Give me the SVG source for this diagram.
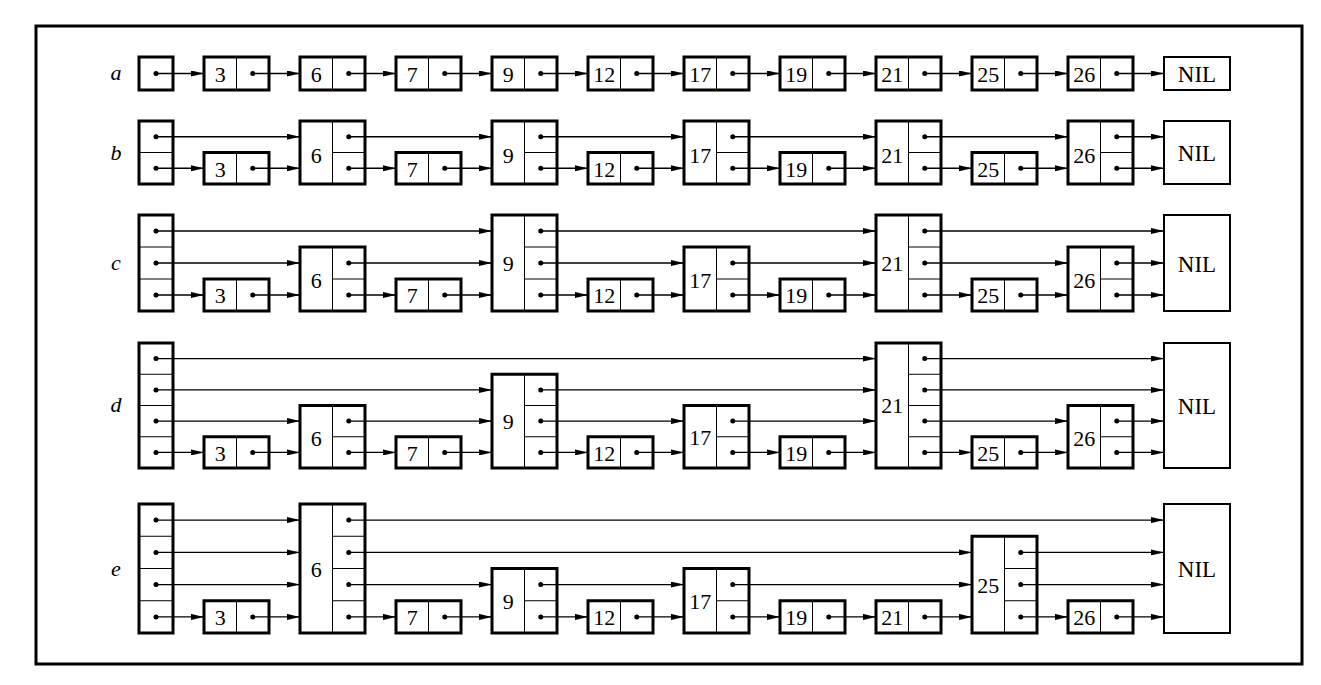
<svg xmlns="http://www.w3.org/2000/svg" width="1321" height="685" viewBox="0 0 1321 685">
<style>
.box{fill:#fff;stroke:#000;stroke-width:3}
.nil{fill:#fff;stroke:#000;stroke-width:2}
.d{stroke:#000;stroke-width:1;fill:none}
.dot{fill:#000}
.k{font-family:"Liberation Serif","Times New Roman",serif;font-size:22px;text-anchor:middle;fill:#000}
.n{font-family:"Liberation Serif","Times New Roman",serif;font-size:23px;text-anchor:middle;fill:#000}
.lb{font-family:"Liberation Serif","Times New Roman",serif;font-size:22px;font-style:italic;text-anchor:middle;fill:#000}
.e{stroke:#000;stroke-width:1.3;fill:none;marker-end:url(#ah)}
</style>
<defs>
<marker id="ah" markerUnits="userSpaceOnUse" markerWidth="13" markerHeight="6" refX="13" refY="3" orient="auto"><path d="M0,0 L13,3 L0,6 z" fill="#000"/></marker>
</defs>
<rect x="0" y="0" width="1321" height="685" fill="#fff"/>
<rect x="36" y="26" width="1266" height="638" fill="none" stroke="#000" stroke-width="3"/>
<g id="labels">
<text class="lb" x="116" y="80">a</text>
<text class="lb" x="116" y="160">b</text>
<text class="lb" x="116" y="270">c</text>
<text class="lb" x="116" y="412">d</text>
<text class="lb" x="116" y="576">e</text>
</g>
<!-- Row a -->
<g id="a-h"><rect class="box" x="139" y="57" width="34" height="33"/><circle class="dot" cx="156" cy="73.5" r="2.5"/></g>
<g id="a-3"><rect class="box" x="204" y="57" width="65" height="33"/><line class="d" x1="236.5" y1="57" x2="236.5" y2="90"/><circle class="dot" cx="252.75" cy="73.5" r="2.5"/><text class="k" x="220.25" y="81.5">3</text></g>
<g id="a-6"><rect class="box" x="300" y="57" width="65" height="33"/><line class="d" x1="332.5" y1="57" x2="332.5" y2="90"/><circle class="dot" cx="348.75" cy="73.5" r="2.5"/><text class="k" x="316.25" y="81.5">6</text></g>
<g id="a-7"><rect class="box" x="396" y="57" width="65" height="33"/><line class="d" x1="428.5" y1="57" x2="428.5" y2="90"/><circle class="dot" cx="444.75" cy="73.5" r="2.5"/><text class="k" x="412.25" y="81.5">7</text></g>
<g id="a-9"><rect class="box" x="492" y="57" width="65" height="33"/><line class="d" x1="524.5" y1="57" x2="524.5" y2="90"/><circle class="dot" cx="540.75" cy="73.5" r="2.5"/><text class="k" x="508.25" y="81.5">9</text></g>
<g id="a-12"><rect class="box" x="588" y="57" width="65" height="33"/><line class="d" x1="620.5" y1="57" x2="620.5" y2="90"/><circle class="dot" cx="636.75" cy="73.5" r="2.5"/><text class="k" x="604.25" y="81.5">12</text></g>
<g id="a-17"><rect class="box" x="684" y="57" width="65" height="33"/><line class="d" x1="716.5" y1="57" x2="716.5" y2="90"/><circle class="dot" cx="732.75" cy="73.5" r="2.5"/><text class="k" x="700.25" y="81.5">17</text></g>
<g id="a-19"><rect class="box" x="780" y="57" width="65" height="33"/><line class="d" x1="812.5" y1="57" x2="812.5" y2="90"/><circle class="dot" cx="828.75" cy="73.5" r="2.5"/><text class="k" x="796.25" y="81.5">19</text></g>
<g id="a-21"><rect class="box" x="876" y="57" width="65" height="33"/><line class="d" x1="908.5" y1="57" x2="908.5" y2="90"/><circle class="dot" cx="924.75" cy="73.5" r="2.5"/><text class="k" x="892.25" y="81.5">21</text></g>
<g id="a-25"><rect class="box" x="972" y="57" width="65" height="33"/><line class="d" x1="1004.5" y1="57" x2="1004.5" y2="90"/><circle class="dot" cx="1020.75" cy="73.5" r="2.5"/><text class="k" x="988.25" y="81.5">25</text></g>
<g id="a-26"><rect class="box" x="1068" y="57" width="65" height="33"/><line class="d" x1="1100.5" y1="57" x2="1100.5" y2="90"/><circle class="dot" cx="1116.75" cy="73.5" r="2.5"/><text class="k" x="1084.25" y="81.5">26</text></g>
<g id="a-nil"><rect class="nil" x="1164" y="57" width="66" height="33"/><text class="n" x="1197" y="82">NIL</text></g>
<!-- Row b -->
<g id="b-h"><rect class="box" x="139" y="121" width="34" height="63"/><line class="d" x1="139" y1="152.5" x2="173" y2="152.5"/><circle class="dot" cx="156" cy="136.75" r="2.5"/><circle class="dot" cx="156" cy="168.25" r="2.5"/></g>
<g id="b-3"><rect class="box" x="204" y="152.5" width="65" height="31.5"/><line class="d" x1="236.5" y1="152.5" x2="236.5" y2="184"/><circle class="dot" cx="252.75" cy="168.25" r="2.5"/><text class="k" x="220.25" y="176.5">3</text></g>
<g id="b-6"><rect class="box" x="300" y="121" width="65" height="63"/><line class="d" x1="332.5" y1="121" x2="332.5" y2="184"/><line class="d" x1="332.5" y1="152.5" x2="365" y2="152.5"/><circle class="dot" cx="348.75" cy="136.75" r="2.5"/><circle class="dot" cx="348.75" cy="168.25" r="2.5"/><text class="k" x="316.25" y="162.5">6</text></g>
<g id="b-7"><rect class="box" x="396" y="152.5" width="65" height="31.5"/><line class="d" x1="428.5" y1="152.5" x2="428.5" y2="184"/><circle class="dot" cx="444.75" cy="168.25" r="2.5"/><text class="k" x="412.25" y="176.5">7</text></g>
<g id="b-9"><rect class="box" x="492" y="121" width="65" height="63"/><line class="d" x1="524.5" y1="121" x2="524.5" y2="184"/><line class="d" x1="524.5" y1="152.5" x2="557" y2="152.5"/><circle class="dot" cx="540.75" cy="136.75" r="2.5"/><circle class="dot" cx="540.75" cy="168.25" r="2.5"/><text class="k" x="508.25" y="162.5">9</text></g>
<g id="b-12"><rect class="box" x="588" y="152.5" width="65" height="31.5"/><line class="d" x1="620.5" y1="152.5" x2="620.5" y2="184"/><circle class="dot" cx="636.75" cy="168.25" r="2.5"/><text class="k" x="604.25" y="176.5">12</text></g>
<g id="b-17"><rect class="box" x="684" y="121" width="65" height="63"/><line class="d" x1="716.5" y1="121" x2="716.5" y2="184"/><line class="d" x1="716.5" y1="152.5" x2="749" y2="152.5"/><circle class="dot" cx="732.75" cy="136.75" r="2.5"/><circle class="dot" cx="732.75" cy="168.25" r="2.5"/><text class="k" x="700.25" y="162.5">17</text></g>
<g id="b-19"><rect class="box" x="780" y="152.5" width="65" height="31.5"/><line class="d" x1="812.5" y1="152.5" x2="812.5" y2="184"/><circle class="dot" cx="828.75" cy="168.25" r="2.5"/><text class="k" x="796.25" y="176.5">19</text></g>
<g id="b-21"><rect class="box" x="876" y="121" width="65" height="63"/><line class="d" x1="908.5" y1="121" x2="908.5" y2="184"/><line class="d" x1="908.5" y1="152.5" x2="941" y2="152.5"/><circle class="dot" cx="924.75" cy="136.75" r="2.5"/><circle class="dot" cx="924.75" cy="168.25" r="2.5"/><text class="k" x="892.25" y="162.5">21</text></g>
<g id="b-25"><rect class="box" x="972" y="152.5" width="65" height="31.5"/><line class="d" x1="1004.5" y1="152.5" x2="1004.5" y2="184"/><circle class="dot" cx="1020.75" cy="168.25" r="2.5"/><text class="k" x="988.25" y="176.5">25</text></g>
<g id="b-26"><rect class="box" x="1068" y="121" width="65" height="63"/><line class="d" x1="1100.5" y1="121" x2="1100.5" y2="184"/><line class="d" x1="1100.5" y1="152.5" x2="1133" y2="152.5"/><circle class="dot" cx="1116.75" cy="136.75" r="2.5"/><circle class="dot" cx="1116.75" cy="168.25" r="2.5"/><text class="k" x="1084.25" y="162.5">26</text></g>
<g id="b-nil"><rect class="nil" x="1164" y="121" width="66" height="63"/><text class="n" x="1197" y="160.5">NIL</text></g>
<!-- Row c -->
<g id="c-h"><rect class="box" x="139" y="215" width="34" height="96"/><line class="d" x1="139" y1="247" x2="173" y2="247"/><line class="d" x1="139" y1="279" x2="173" y2="279"/><circle class="dot" cx="156" cy="231" r="2.5"/><circle class="dot" cx="156" cy="263" r="2.5"/><circle class="dot" cx="156" cy="295" r="2.5"/></g>
<g id="c-3"><rect class="box" x="204" y="279" width="65" height="32"/><line class="d" x1="236.5" y1="279" x2="236.5" y2="311"/><circle class="dot" cx="252.75" cy="295" r="2.5"/><text class="k" x="220.25" y="303">3</text></g>
<g id="c-6"><rect class="box" x="300" y="247" width="65" height="64"/><line class="d" x1="332.5" y1="247" x2="332.5" y2="311"/><line class="d" x1="332.5" y1="279" x2="365" y2="279"/><circle class="dot" cx="348.75" cy="263" r="2.5"/><circle class="dot" cx="348.75" cy="295" r="2.5"/><text class="k" x="316.25" y="288">6</text></g>
<g id="c-7"><rect class="box" x="396" y="279" width="65" height="32"/><line class="d" x1="428.5" y1="279" x2="428.5" y2="311"/><circle class="dot" cx="444.75" cy="295" r="2.5"/><text class="k" x="412.25" y="303">7</text></g>
<g id="c-9"><rect class="box" x="492" y="215" width="65" height="96"/><line class="d" x1="524.5" y1="215" x2="524.5" y2="311"/><line class="d" x1="524.5" y1="247" x2="557" y2="247"/><line class="d" x1="524.5" y1="279" x2="557" y2="279"/><circle class="dot" cx="540.75" cy="231" r="2.5"/><circle class="dot" cx="540.75" cy="263" r="2.5"/><circle class="dot" cx="540.75" cy="295" r="2.5"/><text class="k" x="508.25" y="271">9</text></g>
<g id="c-12"><rect class="box" x="588" y="279" width="65" height="32"/><line class="d" x1="620.5" y1="279" x2="620.5" y2="311"/><circle class="dot" cx="636.75" cy="295" r="2.5"/><text class="k" x="604.25" y="303">12</text></g>
<g id="c-17"><rect class="box" x="684" y="247" width="65" height="64"/><line class="d" x1="716.5" y1="247" x2="716.5" y2="311"/><line class="d" x1="716.5" y1="279" x2="749" y2="279"/><circle class="dot" cx="732.75" cy="263" r="2.5"/><circle class="dot" cx="732.75" cy="295" r="2.5"/><text class="k" x="700.25" y="288">17</text></g>
<g id="c-19"><rect class="box" x="780" y="279" width="65" height="32"/><line class="d" x1="812.5" y1="279" x2="812.5" y2="311"/><circle class="dot" cx="828.75" cy="295" r="2.5"/><text class="k" x="796.25" y="303">19</text></g>
<g id="c-21"><rect class="box" x="876" y="215" width="65" height="96"/><line class="d" x1="908.5" y1="215" x2="908.5" y2="311"/><line class="d" x1="908.5" y1="247" x2="941" y2="247"/><line class="d" x1="908.5" y1="279" x2="941" y2="279"/><circle class="dot" cx="924.75" cy="231" r="2.5"/><circle class="dot" cx="924.75" cy="263" r="2.5"/><circle class="dot" cx="924.75" cy="295" r="2.5"/><text class="k" x="892.25" y="271">21</text></g>
<g id="c-25"><rect class="box" x="972" y="279" width="65" height="32"/><line class="d" x1="1004.5" y1="279" x2="1004.5" y2="311"/><circle class="dot" cx="1020.75" cy="295" r="2.5"/><text class="k" x="988.25" y="303">25</text></g>
<g id="c-26"><rect class="box" x="1068" y="247" width="65" height="64"/><line class="d" x1="1100.5" y1="247" x2="1100.5" y2="311"/><line class="d" x1="1100.5" y1="279" x2="1133" y2="279"/><circle class="dot" cx="1116.75" cy="263" r="2.5"/><circle class="dot" cx="1116.75" cy="295" r="2.5"/><text class="k" x="1084.25" y="288">26</text></g>
<g id="c-nil"><rect class="nil" x="1164" y="215" width="66" height="96"/><text class="n" x="1197" y="271.5">NIL</text></g>
<!-- Row d -->
<g id="d-h"><rect class="box" x="139" y="343" width="34" height="125"/><line class="d" x1="139" y1="374.25" x2="173" y2="374.25"/><line class="d" x1="139" y1="405.5" x2="173" y2="405.5"/><line class="d" x1="139" y1="436.75" x2="173" y2="436.75"/><circle class="dot" cx="156" cy="358.6" r="2.5"/><circle class="dot" cx="156" cy="389.9" r="2.5"/><circle class="dot" cx="156" cy="421.1" r="2.5"/><circle class="dot" cx="156" cy="452.4" r="2.5"/></g>
<g id="d-3"><rect class="box" x="204" y="436.75" width="65" height="31.25"/><line class="d" x1="236.5" y1="436.75" x2="236.5" y2="468"/><circle class="dot" cx="252.75" cy="452.4" r="2.5"/><text class="k" x="220.25" y="460.5">3</text></g>
<g id="d-6"><rect class="box" x="300" y="405.5" width="65" height="62.5"/><line class="d" x1="332.5" y1="405.5" x2="332.5" y2="468"/><line class="d" x1="332.5" y1="436.75" x2="365" y2="436.75"/><circle class="dot" cx="348.75" cy="421.1" r="2.5"/><circle class="dot" cx="348.75" cy="452.4" r="2.5"/><text class="k" x="316.25" y="445.5">6</text></g>
<g id="d-7"><rect class="box" x="396" y="436.75" width="65" height="31.25"/><line class="d" x1="428.5" y1="436.75" x2="428.5" y2="468"/><circle class="dot" cx="444.75" cy="452.4" r="2.5"/><text class="k" x="412.25" y="460.5">7</text></g>
<g id="d-9"><rect class="box" x="492" y="374.25" width="65" height="93.75"/><line class="d" x1="524.5" y1="374.25" x2="524.5" y2="468"/><line class="d" x1="524.5" y1="405.5" x2="557" y2="405.5"/><line class="d" x1="524.5" y1="436.75" x2="557" y2="436.75"/><circle class="dot" cx="540.75" cy="389.9" r="2.5"/><circle class="dot" cx="540.75" cy="421.1" r="2.5"/><circle class="dot" cx="540.75" cy="452.4" r="2.5"/><text class="k" x="508.25" y="429">9</text></g>
<g id="d-12"><rect class="box" x="588" y="436.75" width="65" height="31.25"/><line class="d" x1="620.5" y1="436.75" x2="620.5" y2="468"/><circle class="dot" cx="636.75" cy="452.4" r="2.5"/><text class="k" x="604.25" y="460.5">12</text></g>
<g id="d-17"><rect class="box" x="684" y="405.5" width="65" height="62.5"/><line class="d" x1="716.5" y1="405.5" x2="716.5" y2="468"/><line class="d" x1="716.5" y1="436.75" x2="749" y2="436.75"/><circle class="dot" cx="732.75" cy="421.1" r="2.5"/><circle class="dot" cx="732.75" cy="452.4" r="2.5"/><text class="k" x="700.25" y="445">17</text></g>
<g id="d-19"><rect class="box" x="780" y="436.75" width="65" height="31.25"/><line class="d" x1="812.5" y1="436.75" x2="812.5" y2="468"/><circle class="dot" cx="828.75" cy="452.4" r="2.5"/><text class="k" x="796.25" y="460.5">19</text></g>
<g id="d-21"><rect class="box" x="876" y="343" width="65" height="125"/><line class="d" x1="908.5" y1="343" x2="908.5" y2="468"/><line class="d" x1="908.5" y1="374.25" x2="941" y2="374.25"/><line class="d" x1="908.5" y1="405.5" x2="941" y2="405.5"/><line class="d" x1="908.5" y1="436.75" x2="941" y2="436.75"/><circle class="dot" cx="924.75" cy="358.6" r="2.5"/><circle class="dot" cx="924.75" cy="389.9" r="2.5"/><circle class="dot" cx="924.75" cy="421.1" r="2.5"/><circle class="dot" cx="924.75" cy="452.4" r="2.5"/><text class="k" x="892.25" y="413">21</text></g>
<g id="d-25"><rect class="box" x="972" y="436.75" width="65" height="31.25"/><line class="d" x1="1004.5" y1="436.75" x2="1004.5" y2="468"/><circle class="dot" cx="1020.75" cy="452.4" r="2.5"/><text class="k" x="988.25" y="460.5">25</text></g>
<g id="d-26"><rect class="box" x="1068" y="405.5" width="65" height="62.5"/><line class="d" x1="1100.5" y1="405.5" x2="1100.5" y2="468"/><line class="d" x1="1100.5" y1="436.75" x2="1133" y2="436.75"/><circle class="dot" cx="1116.75" cy="421.1" r="2.5"/><circle class="dot" cx="1116.75" cy="452.4" r="2.5"/><text class="k" x="1084.25" y="446">26</text></g>
<g id="d-nil"><rect class="nil" x="1164" y="343" width="66" height="125"/><text class="n" x="1197" y="413.5">NIL</text></g>
<!-- Row e -->
<g id="e-h"><rect class="box" x="139" y="504" width="34" height="129"/><line class="d" x1="139" y1="536.25" x2="173" y2="536.25"/><line class="d" x1="139" y1="568.5" x2="173" y2="568.5"/><line class="d" x1="139" y1="600.75" x2="173" y2="600.75"/><circle class="dot" cx="156" cy="520.1" r="2.5"/><circle class="dot" cx="156" cy="552.4" r="2.5"/><circle class="dot" cx="156" cy="584.6" r="2.5"/><circle class="dot" cx="156" cy="616.9" r="2.5"/></g>
<g id="e-3"><rect class="box" x="204" y="600.75" width="65" height="32.25"/><line class="d" x1="236.5" y1="600.75" x2="236.5" y2="633"/><circle class="dot" cx="252.75" cy="616.9" r="2.5"/><text class="k" x="220.25" y="625">3</text></g>
<g id="e-6"><rect class="box" x="300" y="504" width="65" height="129"/><line class="d" x1="332.5" y1="504" x2="332.5" y2="633"/><line class="d" x1="332.5" y1="536.25" x2="365" y2="536.25"/><line class="d" x1="332.5" y1="568.5" x2="365" y2="568.5"/><line class="d" x1="332.5" y1="600.75" x2="365" y2="600.75"/><circle class="dot" cx="348.75" cy="520.1" r="2.5"/><circle class="dot" cx="348.75" cy="552.4" r="2.5"/><circle class="dot" cx="348.75" cy="584.6" r="2.5"/><circle class="dot" cx="348.75" cy="616.9" r="2.5"/><text class="k" x="316.25" y="576.5">6</text></g>
<g id="e-7"><rect class="box" x="396" y="600.75" width="65" height="32.25"/><line class="d" x1="428.5" y1="600.75" x2="428.5" y2="633"/><circle class="dot" cx="444.75" cy="616.9" r="2.5"/><text class="k" x="412.25" y="625">7</text></g>
<g id="e-9"><rect class="box" x="492" y="568.5" width="65" height="64.5"/><line class="d" x1="524.5" y1="568.5" x2="524.5" y2="633"/><line class="d" x1="524.5" y1="600.75" x2="557" y2="600.75"/><circle class="dot" cx="540.75" cy="584.6" r="2.5"/><circle class="dot" cx="540.75" cy="616.9" r="2.5"/><text class="k" x="508.25" y="608.5">9</text></g>
<g id="e-12"><rect class="box" x="588" y="600.75" width="65" height="32.25"/><line class="d" x1="620.5" y1="600.75" x2="620.5" y2="633"/><circle class="dot" cx="636.75" cy="616.9" r="2.5"/><text class="k" x="604.25" y="625">12</text></g>
<g id="e-17"><rect class="box" x="684" y="568.5" width="65" height="64.5"/><line class="d" x1="716.5" y1="568.5" x2="716.5" y2="633"/><line class="d" x1="716.5" y1="600.75" x2="749" y2="600.75"/><circle class="dot" cx="732.75" cy="584.6" r="2.5"/><circle class="dot" cx="732.75" cy="616.9" r="2.5"/><text class="k" x="700.25" y="608.5">17</text></g>
<g id="e-19"><rect class="box" x="780" y="600.75" width="65" height="32.25"/><line class="d" x1="812.5" y1="600.75" x2="812.5" y2="633"/><circle class="dot" cx="828.75" cy="616.9" r="2.5"/><text class="k" x="796.25" y="625">19</text></g>
<g id="e-21"><rect class="box" x="876" y="600.75" width="65" height="32.25"/><line class="d" x1="908.5" y1="600.75" x2="908.5" y2="633"/><circle class="dot" cx="924.75" cy="616.9" r="2.5"/><text class="k" x="892.25" y="625">21</text></g>
<g id="e-25"><rect class="box" x="972" y="536.25" width="65" height="96.75"/><line class="d" x1="1004.5" y1="536.25" x2="1004.5" y2="633"/><line class="d" x1="1004.5" y1="568.5" x2="1037" y2="568.5"/><line class="d" x1="1004.5" y1="600.75" x2="1037" y2="600.75"/><circle class="dot" cx="1020.75" cy="552.4" r="2.5"/><circle class="dot" cx="1020.75" cy="584.6" r="2.5"/><circle class="dot" cx="1020.75" cy="616.9" r="2.5"/><text class="k" x="988.25" y="592.5">25</text></g>
<g id="e-26"><rect class="box" x="1068" y="600.75" width="65" height="32.25"/><line class="d" x1="1100.5" y1="600.75" x2="1100.5" y2="633"/><circle class="dot" cx="1116.75" cy="616.9" r="2.5"/><text class="k" x="1084.25" y="625">26</text></g>
<g id="e-nil"><rect class="nil" x="1164" y="504" width="66" height="129"/><text class="n" x="1197" y="576.5">NIL</text></g>
<g id="connectors">
<!-- a -->
<line class="e" x1="156" y1="73.5" x2="204" y2="73.5"/><line class="e" x1="252.75" y1="73.5" x2="300" y2="73.5"/><line class="e" x1="348.75" y1="73.5" x2="396" y2="73.5"/><line class="e" x1="444.75" y1="73.5" x2="492" y2="73.5"/><line class="e" x1="540.75" y1="73.5" x2="588" y2="73.5"/><line class="e" x1="636.75" y1="73.5" x2="684" y2="73.5"/><line class="e" x1="732.75" y1="73.5" x2="780" y2="73.5"/><line class="e" x1="828.75" y1="73.5" x2="876" y2="73.5"/><line class="e" x1="924.75" y1="73.5" x2="972" y2="73.5"/><line class="e" x1="1020.75" y1="73.5" x2="1068" y2="73.5"/><line class="e" x1="1116.75" y1="73.5" x2="1164" y2="73.5"/>
<!-- b -->
<line class="e" x1="156" y1="168.25" x2="204" y2="168.25"/><line class="e" x1="252.75" y1="168.25" x2="300" y2="168.25"/><line class="e" x1="348.75" y1="168.25" x2="396" y2="168.25"/><line class="e" x1="444.75" y1="168.25" x2="492" y2="168.25"/><line class="e" x1="540.75" y1="168.25" x2="588" y2="168.25"/><line class="e" x1="636.75" y1="168.25" x2="684" y2="168.25"/><line class="e" x1="732.75" y1="168.25" x2="780" y2="168.25"/><line class="e" x1="828.75" y1="168.25" x2="876" y2="168.25"/><line class="e" x1="924.75" y1="168.25" x2="972" y2="168.25"/><line class="e" x1="1020.75" y1="168.25" x2="1068" y2="168.25"/><line class="e" x1="1116.75" y1="168.25" x2="1164" y2="168.25"/>
<line class="e" x1="156" y1="136.75" x2="300" y2="136.75"/><line class="e" x1="348.75" y1="136.75" x2="492" y2="136.75"/><line class="e" x1="540.75" y1="136.75" x2="684" y2="136.75"/><line class="e" x1="732.75" y1="136.75" x2="876" y2="136.75"/><line class="e" x1="924.75" y1="136.75" x2="1068" y2="136.75"/><line class="e" x1="1116.75" y1="136.75" x2="1164" y2="136.75"/>
<!-- c -->
<line class="e" x1="156" y1="295" x2="204" y2="295"/><line class="e" x1="252.75" y1="295" x2="300" y2="295"/><line class="e" x1="348.75" y1="295" x2="396" y2="295"/><line class="e" x1="444.75" y1="295" x2="492" y2="295"/><line class="e" x1="540.75" y1="295" x2="588" y2="295"/><line class="e" x1="636.75" y1="295" x2="684" y2="295"/><line class="e" x1="732.75" y1="295" x2="780" y2="295"/><line class="e" x1="828.75" y1="295" x2="876" y2="295"/><line class="e" x1="924.75" y1="295" x2="972" y2="295"/><line class="e" x1="1020.75" y1="295" x2="1068" y2="295"/><line class="e" x1="1116.75" y1="295" x2="1164" y2="295"/>
<line class="e" x1="156" y1="263" x2="300" y2="263"/><line class="e" x1="348.75" y1="263" x2="492" y2="263"/><line class="e" x1="540.75" y1="263" x2="684" y2="263"/><line class="e" x1="732.75" y1="263" x2="876" y2="263"/><line class="e" x1="924.75" y1="263" x2="1068" y2="263"/><line class="e" x1="1116.75" y1="263" x2="1164" y2="263"/>
<line class="e" x1="156" y1="231" x2="492" y2="231"/><line class="e" x1="540.75" y1="231" x2="876" y2="231"/><line class="e" x1="924.75" y1="231" x2="1164" y2="231"/>
<!-- d -->
<line class="e" x1="156" y1="452.4" x2="204" y2="452.4"/><line class="e" x1="252.75" y1="452.4" x2="300" y2="452.4"/><line class="e" x1="348.75" y1="452.4" x2="396" y2="452.4"/><line class="e" x1="444.75" y1="452.4" x2="492" y2="452.4"/><line class="e" x1="540.75" y1="452.4" x2="588" y2="452.4"/><line class="e" x1="636.75" y1="452.4" x2="684" y2="452.4"/><line class="e" x1="732.75" y1="452.4" x2="780" y2="452.4"/><line class="e" x1="828.75" y1="452.4" x2="876" y2="452.4"/><line class="e" x1="924.75" y1="452.4" x2="972" y2="452.4"/><line class="e" x1="1020.75" y1="452.4" x2="1068" y2="452.4"/><line class="e" x1="1116.75" y1="452.4" x2="1164" y2="452.4"/>
<line class="e" x1="156" y1="421.1" x2="300" y2="421.1"/><line class="e" x1="348.75" y1="421.1" x2="492" y2="421.1"/><line class="e" x1="540.75" y1="421.1" x2="684" y2="421.1"/><line class="e" x1="732.75" y1="421.1" x2="876" y2="421.1"/><line class="e" x1="924.75" y1="421.1" x2="1068" y2="421.1"/><line class="e" x1="1116.75" y1="421.1" x2="1164" y2="421.1"/>
<line class="e" x1="156" y1="389.9" x2="492" y2="389.9"/><line class="e" x1="540.75" y1="389.9" x2="876" y2="389.9"/><line class="e" x1="924.75" y1="389.9" x2="1164" y2="389.9"/>
<line class="e" x1="156" y1="358.6" x2="876" y2="358.6"/><line class="e" x1="924.75" y1="358.6" x2="1164" y2="358.6"/>
<!-- e -->
<line class="e" x1="156" y1="616.9" x2="204" y2="616.9"/><line class="e" x1="252.75" y1="616.9" x2="300" y2="616.9"/><line class="e" x1="348.75" y1="616.9" x2="396" y2="616.9"/><line class="e" x1="444.75" y1="616.9" x2="492" y2="616.9"/><line class="e" x1="540.75" y1="616.9" x2="588" y2="616.9"/><line class="e" x1="636.75" y1="616.9" x2="684" y2="616.9"/><line class="e" x1="732.75" y1="616.9" x2="780" y2="616.9"/><line class="e" x1="828.75" y1="616.9" x2="876" y2="616.9"/><line class="e" x1="924.75" y1="616.9" x2="972" y2="616.9"/><line class="e" x1="1020.75" y1="616.9" x2="1068" y2="616.9"/><line class="e" x1="1116.75" y1="616.9" x2="1164" y2="616.9"/>
<line class="e" x1="156" y1="584.6" x2="300" y2="584.6"/><line class="e" x1="348.75" y1="584.6" x2="492" y2="584.6"/><line class="e" x1="540.75" y1="584.6" x2="684" y2="584.6"/><line class="e" x1="732.75" y1="584.6" x2="972" y2="584.6"/><line class="e" x1="1020.75" y1="584.6" x2="1164" y2="584.6"/>
<line class="e" x1="156" y1="552.4" x2="300" y2="552.4"/><line class="e" x1="348.75" y1="552.4" x2="972" y2="552.4"/><line class="e" x1="1020.75" y1="552.4" x2="1164" y2="552.4"/>
<line class="e" x1="156" y1="520.1" x2="300" y2="520.1"/><line class="e" x1="348.75" y1="520.1" x2="1164" y2="520.1"/>
</g>
</svg>
